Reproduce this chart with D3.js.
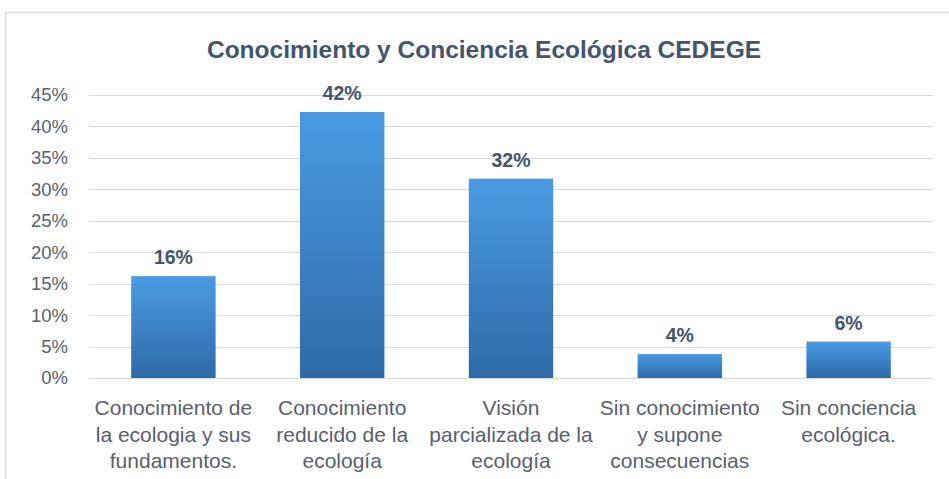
<!DOCTYPE html>
<html>
<head>
<meta charset="utf-8">
<script src="https://cdn.jsdelivr.net/npm/d3@7"></script>
<style>
  body { margin: 0; background: #fff; }
  text { font-family: "Liberation Sans", sans-serif; }
</style>
</head>
<body>
<script>
// data
var categories = [
  ["Conocimiento de", "la ecologia y sus", "fundamentos."],
  ["Conocimiento", "reducido de la", "ecología"],
  ["Visión", "parcializada de la", "ecología"],
  ["Sin conocimiento", "y supone", "consecuencias"],
  ["Sin conciencia", "ecológica."]
];
var values = [0.162, 0.423, 0.317, 0.038, 0.058];
var yTicks = [0, 0.05, 0.10, 0.15, 0.20, 0.25, 0.30, 0.35, 0.40, 0.45];
var title = "Conocimiento y Conciencia Ecológica CEDEGE";

var width = 949, height = 479;
var margin = {top: 95, right: 16, bottom: 101, left: 89};

var svg = d3.select("body").append("svg")
    .attr("width", width)
    .attr("height", height);

// gradient for the bars
var grad = svg.append("defs").append("linearGradient")
    .attr("id", "barGrad")
    .attr("x1", 0).attr("y1", 0).attr("x2", 0).attr("y2", 1);
grad.append("stop").attr("offset", "0%").attr("stop-color", "#4a9be3");
grad.append("stop").attr("offset", "100%").attr("stop-color", "#2f6aa8");

// chart frame (runs off the right and bottom)
svg.append("rect")
    .attr("x", 5.5).attr("y", 12.5)
    .attr("width", 960).attr("height", 480)
    .attr("fill", "#fff")
    .attr("stroke", "#d9d9d9")
    .attr("stroke-width", 1.5);

var x = d3.scaleBand()
    .domain(d3.range(categories.length))
    .range([margin.left, width - margin.right])
    .paddingInner(0.5)
    .paddingOuter(0.25);

var y = d3.scaleLinear()
    .domain([0, 0.45])
    .range([height - margin.bottom, margin.top]);

// gridlines
svg.append("g")
    .selectAll("line")
    .data(yTicks)
    .join("line")
    .attr("x1", margin.left)
    .attr("x2", width - margin.right)
    .attr("y1", function(d){ return Math.round(y(d)) + 0.5; })
    .attr("y2", function(d){ return Math.round(y(d)) + 0.5; })
    .attr("stroke", "#d9d9d9")
    .attr("stroke-width", 1);

// y axis labels
var yAxis = d3.axisLeft(y)
    .tickValues(yTicks)
    .tickFormat(d3.format(".0%"))
    .tickSize(0)
    .tickPadding(0);

svg.append("g")
    .attr("transform", "translate(" + (margin.left - 21) + ",0)")
    .call(yAxis)
    .call(function(g){ g.select(".domain").remove(); })
    .selectAll("text")
    .attr("font-family", "'Liberation Sans', sans-serif")
    .attr("font-size", 18.5)
    .attr("fill", "#595f6b");

// bars
svg.append("g")
    .selectAll("rect")
    .data(values)
    .join("rect")
    .attr("x", function(d, i){ return x(i); })
    .attr("y", function(d){ return y(d); })
    .attr("width", x.bandwidth())
    .attr("height", function(d){ return y(0) - y(d); })
    .attr("fill", "url(#barGrad)");

// value labels
svg.append("g")
    .selectAll("text")
    .data(values)
    .join("text")
    .attr("x", function(d, i){ return x(i) + x.bandwidth() / 2; })
    .attr("y", function(d){ return y(d) - 12; })
    .attr("text-anchor", "middle")
    .attr("font-family", "'Liberation Sans', sans-serif")
    .attr("font-weight", "bold")
    .attr("font-size", 19.5)
    .attr("fill", "#44546a")
    .text(function(d){ return d3.format(".0%")(d); });

// category labels
var cat = svg.append("g")
    .selectAll("text")
    .data(categories)
    .join("text")
    .attr("x", function(d, i){ return x(i) + x.bandwidth() / 2; })
    .attr("y", 415)
    .attr("text-anchor", "middle")
    .attr("font-size", 21)
    .attr("fill", "#59606c");

cat.selectAll("tspan")
    .data(function(d){ return d; })
    .join("tspan")
    .attr("x", function(){ return this.parentNode.getAttribute("x"); })
    .attr("dy", function(d, i){ return i === 0 ? 0 : 26.5; })
    .text(function(d){ return d; });

// title
svg.append("text")
    .attr("x", 484)
    .attr("y", 58)
    .attr("text-anchor", "middle")
    .attr("font-weight", "bold")
    .attr("font-size", 24.5)
    .attr("fill", "#44546a")
    .text(title);
</script>
</body>
</html>
